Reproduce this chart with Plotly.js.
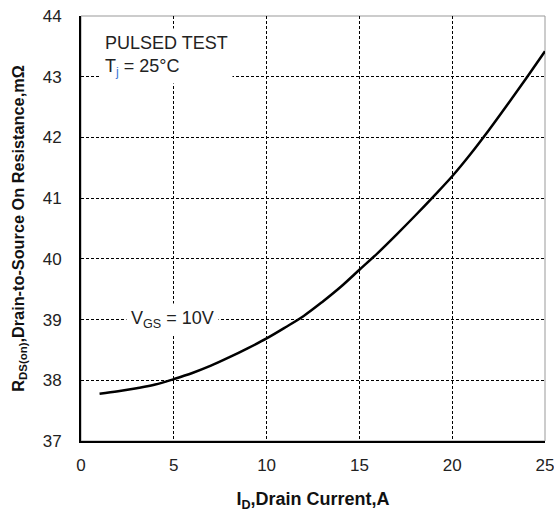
<!DOCTYPE html>
<html>
<head>
<meta charset="utf-8">
<script src="https://cdn.plot.ly/plotly-3.0.1.min.js"></script>
<style>html,body{margin:0;padding:0;background:#fff;}#chart{width:554px;height:513px;}</style>
</head>
<body>
<div id="chart"></div>
<script>
const drainCurrent = [1,2,3,4,5,6,7,8,9,10,11,12,13,14,15,16,17,18,19,20,21,22,23,24,25];
const rdsOn = [37.78,37.82,37.87,37.93,38.02,38.12,38.24,38.38,38.53,38.69,38.87,39.06,39.29,39.54,39.82,40.10,40.40,40.71,41.03,41.36,41.73,42.13,42.55,42.98,43.42];
const xTicks = [0,5,10,15,20,25];
const yTicks = [37,38,39,40,41,42,43,44];

const FAM = 'Arial, Liberation Sans, sans-serif';
const txtFont = {family:FAM, size:18, color:'#222'};

const trace = {
  x: drainCurrent, y: rdsOn, type:'scatter', mode:'lines',
  line:{color:'#000', width:2.5, shape:'spline'}, hoverinfo:'skip'
};

const layout = {
  width:554, height:513,
  margin:{l:81, r:9, t:16, b:72},
  paper_bgcolor:'#fff', plot_bgcolor:'#fff',
  showlegend:false,
  font:{family:FAM, color:'#222'},
  xaxis:{
    range:[0,25], tickvals:xTicks, ticktext:xTicks.map(String),
    showgrid:true, gridcolor:'#000', gridwidth:1, griddash:'3px,2px',
    zeroline:false, showline:true, linecolor:'#000', linewidth:2,
    ticks:'', ticklabelstandoff:8, ticklabeloverflow:'allow',
    tickfont:{family:FAM, size:17, color:'#222'},
    title:{text:'I<sub>D</sub>,Drain Current,A', font:{family:FAM, size:18, color:'#111', weight:'bold'}, standoff:18}
  },
  yaxis:{
    range:[37,44], tickvals:yTicks, ticktext:yTicks.map(String),
    showgrid:true, gridcolor:'#000', gridwidth:1, griddash:'3px,2px',
    zeroline:false, showline:true, linecolor:'#000', linewidth:2,
    ticks:'', ticklabelstandoff:14, ticklabeloverflow:'allow',
    tickfont:{family:FAM, size:17, color:'#222'},
    title:{text:'R<sub>DS(on)</sub>,Drain-to-Source On Resistance,mΩ', font:{family:FAM, size:16.3, color:'#111', weight:'bold'}, standoff:14}
  },
  shapes:[
    {type:'rect', xref:'paper', yref:'paper', x0:0, x1:1, y0:0, y1:1, line:{color:'#999', width:1}, fillcolor:'rgba(0,0,0,0)', layer:'between'}
  ],
  annotations:[
    {x:1.0, y:43.80, xref:'x', yref:'y', xanchor:'left', yanchor:'top', align:'left', showarrow:false,
     text:'PULSED TEST<br>T<sub><span style="color:#3c78d8">j</span></sub> = 25°C', font:txtFont, bgcolor:'#fff', borderpad:4},
    {x:4.91, y:39, xref:'x', yref:'y', xanchor:'center', yanchor:'middle', showarrow:false,
     text:'V<sub>GS</sub> = 10V', font:txtFont, bgcolor:'#fff', borderpad:4}
  ]
};

Plotly.newPlot('chart', [trace], layout, {displayModeBar:false, staticPlot:true});
</script>
</body>
</html>
